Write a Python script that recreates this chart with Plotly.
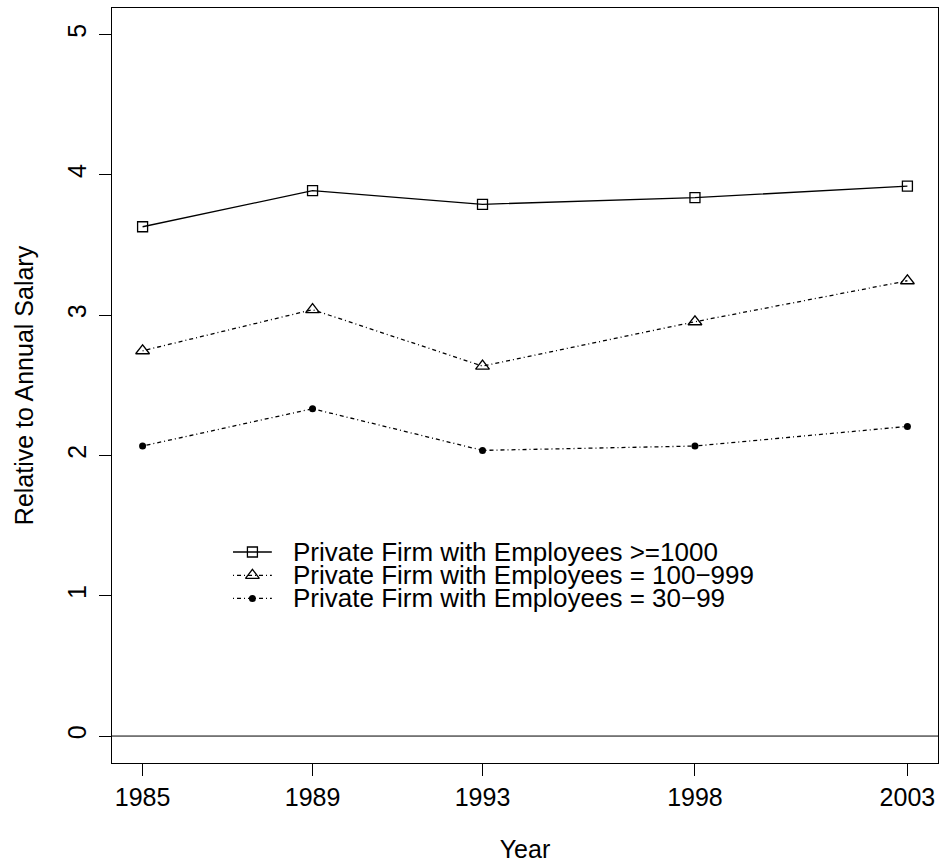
import plotly.graph_objects as go

years = [1985, 1989, 1993, 1998, 2003]
large = [3.630, 3.887, 3.790, 3.837, 3.920]
medium = [2.746, 3.039, 2.637, 2.953, 3.245]
small = [2.067, 2.333, 2.036, 2.067, 2.207]
series_names = ["Private Firm with Employees >=1000",
                "Private Firm with Employees = 100\u2212999",
                "Private Firm with Employees = 30\u221299"]
y_ticks = [0, 1, 2, 3, 4, 5]

FONT = "Liberation Sans, Arial, Helvetica, sans-serif"
FS = 25
LEG_FS = 26
DOTDASH = "1px,3px,4px,3px"

styles = [
    dict(dash="solid", symbol="square-open", size=10, mw=1.3),
    dict(dash=DOTDASH, symbol="triangle-up-open", size=12, mw=1.3),
    dict(dash=DOTDASH, symbol="circle", size=7, mw=0),
]

fig = go.Figure()
for vals, st, name in zip([large, medium, small], styles, series_names):
    fig.add_trace(go.Scatter(
        x=years, y=vals, mode="lines+markers", name=name,
        line=dict(color="black", width=1.3, dash=st["dash"]),
        marker=dict(symbol=st["symbol"], size=st["size"], color="black",
                    line=dict(color="black", width=st["mw"])),
        showlegend=False, cliponaxis=False))

# horizontal reference line at 0
fig.add_shape(type="line", xref="paper", yref="y", x0=0, x1=1, y0=0, y1=0,
              line=dict(color="black", width=1))

# manual legend (on overlay axes in [0,1] coordinates)
leg_x0, leg_x1, leg_xm = 0.1465, 0.1935, 0.170
leg_rows = [0.2795, 0.2485, 0.218]
for st, yy, name in zip(styles, leg_rows, series_names):
    fig.add_trace(go.Scatter(
        x=[leg_x0, leg_x1], y=[yy, yy], mode="lines", xaxis="x2", yaxis="y2",
        line=dict(color="black", width=1.3, dash=st["dash"]), showlegend=False,
        hoverinfo="skip"))
    fig.add_trace(go.Scatter(
        x=[leg_xm], y=[yy], mode="markers", xaxis="x2", yaxis="y2",
        marker=dict(symbol=st["symbol"], size=st["size"], color="black",
                    line=dict(color="black", width=st["mw"])),
        showlegend=False, hoverinfo="skip"))
    fig.add_annotation(x=0.2165, y=yy, xref="x2", yref="y2", text=name,
                       showarrow=False, xanchor="left", yanchor="middle",
                       font=dict(family=FONT, size=LEG_FS, color="black"))

fig.update_layout(
    width=943, height=867,
    margin=dict(l=112, r=5, t=8, b=104),
    paper_bgcolor="white", plot_bgcolor="white",
    font=dict(family=FONT, size=FS, color="black"),
    xaxis=dict(range=[1984.28, 2003.72], tickvals=years,
               ticktext=[str(y) for y in years],
               showgrid=False, zeroline=False, showline=True, mirror=True,
               linecolor="black", linewidth=1, ticks="outside", ticklen=12,
               tickwidth=1, tickcolor="black",
               title=dict(text="Year", font=dict(size=FS), standoff=30)),
    yaxis=dict(range=[-0.192, 5.189], tickvals=y_ticks,
               showgrid=False, zeroline=False, showline=True, mirror=True,
               linecolor="black", linewidth=1, ticks="outside", ticklen=12,
               tickwidth=1, tickcolor="black", tickangle=-90,
               ticklabelstandoff=3,
               title=dict(text="Relative to Annual Salary", font=dict(size=FS),
                          standoff=22)),
    xaxis2=dict(range=[0, 1], overlaying="x", visible=False),
    yaxis2=dict(range=[0, 1], overlaying="y", visible=False),
)

fig.write_html("out.html")
